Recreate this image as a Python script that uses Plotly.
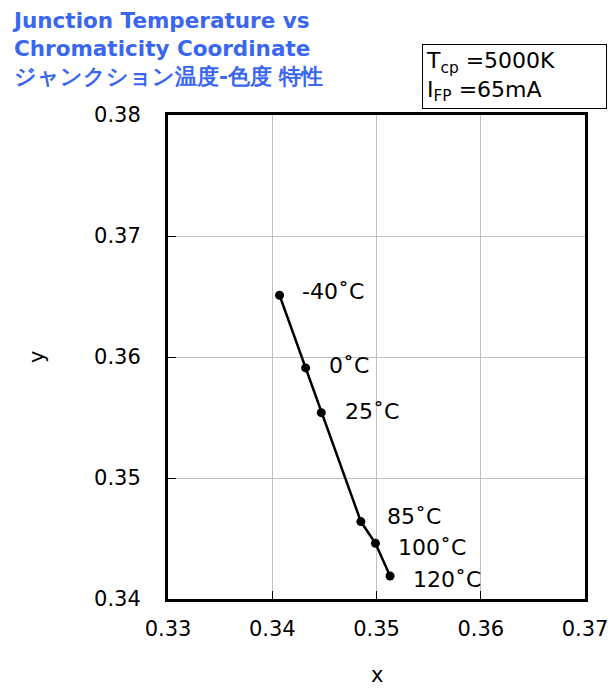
import plotly.graph_objects as go

# chromaticity coordinates vs junction temperature
temps = ["-40˚C", "0˚C", "25˚C", "85˚C", "100˚C", "120˚C"]
cx = [0.3407, 0.3432, 0.3447, 0.3485, 0.3499, 0.3513]
cy = [0.3651, 0.3591, 0.3554, 0.3464, 0.3446, 0.3419]

x_ticks = [0.33, 0.34, 0.35, 0.36, 0.37]
y_ticks = [0.34, 0.35, 0.36, 0.37, 0.38]

font = "Verdana, DejaVu Sans, sans-serif"

fig = go.Figure()
fig.add_trace(go.Scatter(x=cx, y=cy, mode="lines+markers",
                         line=dict(color="black", width=2.5),
                         marker=dict(color="black", size=9),
                         showlegend=False))

# temperature labels to the right of each point
offsets = [(20, 4), (21, 2), (22, 1), (24, 5), (21, -4), (21, -3)]
for t, x, y, (ax, ay) in zip(temps, cx, cy, offsets):
    fig.add_annotation(x=x, y=y, text=t, showarrow=False, xanchor="left",
                       xshift=ax, yshift=ay,
                       font=dict(family=font, size=22, color="black"))

fig.add_annotation(xref="paper", yref="paper", x=-0.38, y=1.225, xanchor="left", yanchor="top",
                   text="<b>Junction Temperature vs<br>Chromaticity Coordinate</b><br><b>ジャンクション温度-色度 特性</b>",
                   showarrow=False, align="left",
                   font=dict(family=font, size=21.5, color="#3a66f0"))

fig.add_annotation(xref="paper", yref="paper", x=1.053, y=1.147, xanchor="right", yanchor="top",
                   text="T<sub>cp</sub> =5000K<br>I<sub>FP</sub> =65mA",
                   showarrow=False, align="left", width=177,
                   bordercolor="black", borderwidth=1, borderpad=3, bgcolor="white",
                   font=dict(family=font, size=22, color="black"))

# axis titles
fig.add_annotation(xref="paper", yref="paper", x=0.5, y=-0.158, text="x", showarrow=False,
                   xanchor="center", yanchor="middle",
                   font=dict(family=font, size=21, color="black"))
fig.add_annotation(xref="paper", yref="paper", x=-0.314, y=0.5, text="y", showarrow=False,
                   xanchor="center", yanchor="middle",
                   textangle=-90, font=dict(family=font, size=21, color="black"))

axis_common = dict(showgrid=True, gridcolor="#c0c0c0", gridwidth=1,
                   showline=True, linecolor="black", linewidth=3, mirror=True,
                   ticks="inside", ticklen=8, tickcolor="black", automargin=False,
                   zeroline=False, tickfont=dict(family=font, size=21, color="black"))

fig.update_xaxes(range=[0.33, 0.37], tickvals=x_ticks, ticktext=[f"{v:.2f}" for v in x_ticks],
                 ticklabelstandoff=9, **axis_common)
fig.update_yaxes(range=[0.34, 0.38], tickvals=y_ticks, ticktext=[f"{v:.2f}" for v in y_ticks],
                 ticklabelstandoff=20, **axis_common)

fig.update_layout(width=610, height=690, plot_bgcolor="white", paper_bgcolor="white",
                  margin=dict(l=168, r=25, t=115, b=91))
fig.write_html("out.html", config={"displayModeBar": False},
               post_script="document.body.style.margin='0';")
